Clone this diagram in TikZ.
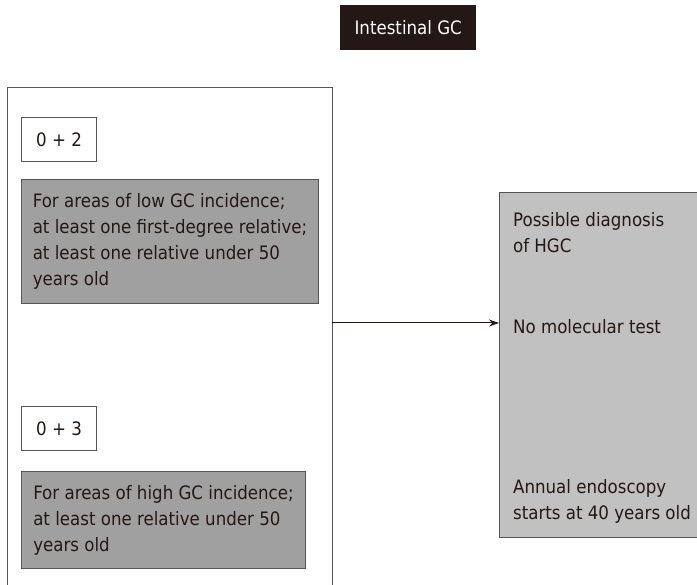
\documentclass[tikz,border=0pt]{standalone}
\usepackage{fontspec}
\setmainfont{DejaVu Sans}[FakeStretch=0.9]
\usepackage{xcolor}
\usepackage{tikz}
\usetikzlibrary{shapes,arrows,arrows.meta,positioning}
\definecolor{inkc}{RGB}{35,24,21}
\definecolor{lowgray}{RGB}{160,160,160}
\definecolor{diaggray}{RGB}{193,193,193}
\definecolor{edgegray}{RGB}{85,85,85}
\tikzstyle{arrow} = [line width=1pt,->,>={Stealth[length=10pt,width=7pt]},color=inkc]

\begin{document}
\begin{tikzpicture}[
  x=1pt, y=-1pt,
  every node/.style={font=\fontsize{18.5}{26}\selectfont, text=inkc, inner sep=0pt},
  titlebox/.style={fill=inkc, text=white, minimum width=136pt, minimum height=45pt},
  scorebox/.style={draw=edgegray, line width=1pt, fill=white, minimum width=75pt, minimum height=44pt},
  critbox/.style={draw=edgegray, line width=1pt, fill=lowgray, align=left},
  diagbox/.style={draw=edgegray, line width=1pt, fill=diaggray, align=left,
    minimum width=205pt, minimum height=345pt}
]
\useasboundingbox (0,0) rectangle (697,585);
% titel
\node[titlebox, anchor=north west] (title) at (340,5) {Intestinal GC};
% linker rahmen
\draw[draw=edgegray, line width=1pt] (7,590) -- (7,88) -- (332,88) -- (332,590);
\coordinate (fr) at (332,323);
% kriterien
\node[scorebox, anchor=north west] (s02) at (21,117) {0 + 2};
\node[critbox, minimum width=297pt, minimum height=124pt,
  below right=17pt and 0pt of s02.south west] (low)
  {For areas of low GC incidence;\\at least one first-degree relative;\\at least one relative under 50\\years old};
\node[scorebox, anchor=north west] (s03) at (21,406) {0 + 3};
\node[critbox, minimum width=284pt, minimum height=97pt,
  below right=20pt and 0pt of s03.south west] (high)
  {For areas of high GC incidence;\\at least one relative under 50\\years old};
% diagnose
\node[diagbox, anchor=north west] (diag) at (499,192)
  {\rule{0pt}{20pt}Possible diagnosis\\of HGC\\[55pt]No molecular test\\[134pt]Annual endoscopy\\starts at 40 years old};
\draw[arrow] (fr) -- (fr -| diag.west);
\end{tikzpicture}
\end{document}
